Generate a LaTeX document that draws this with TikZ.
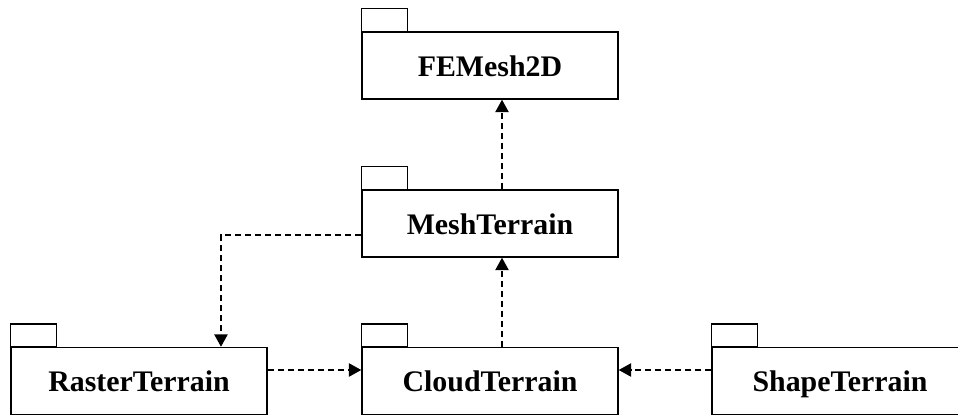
\documentclass[tikz,border=0pt]{standalone}
\usepackage{fontspec}
\setmainfont{Liberation Serif}
\usepackage{tikz}
\usetikzlibrary{arrows.meta}

\begin{document}
\begin{tikzpicture}[x=0.02cm,y=-0.02cm,line width=0.85pt]

%
% Styles
%
\tikzstyle{package} = [rectangle,draw,minimum width=5.12cm,minimum height=1.34cm,inner sep=0pt,text height=14pt,text depth=1.6pt,font=\fontsize{17}{20}\selectfont\bfseries]
\tikzstyle{depends} = [dash pattern=on 3.4pt off 2.3pt,-{Triangle[length=7pt,width=7.5pt]}]

\useasboundingbox (0,0) rectangle (958,415);
\clip (0,0) rectangle (958,415);

\node[package] (fem)    at (490, 65.5)  {FEMesh2D};
\node[package] (mesh)   at (490, 223.5) {MeshTerrain};
\node[package] (raster) at (139, 381)   {RasterTerrain};
\node[package] (cloud)  at (490, 381)   {CloudTerrain};
\node[package] (shape)  at (840, 381)   {ShapeTerrain};

% folder tabs
\foreach \p in {fem,mesh,raster,cloud,shape}
  \draw (\p.north west) rectangle ++(46,-23);

\draw[depends] ([xshift=0.24cm]mesh.north) -- ([xshift=0.24cm]fem.south);
\draw[depends] ([xshift=0.24cm]cloud.north) -- ([xshift=0.24cm]mesh.south);
\draw[depends] ([yshift=-0.23cm]mesh.west) -| ([xshift=1.64cm]raster.north);
\draw[depends] ([yshift=0.22cm]raster.east) -- ([yshift=0.22cm]cloud.west);
\draw[depends] ([yshift=0.22cm]shape.west) -- ([yshift=0.22cm]cloud.east);

\end{tikzpicture}
\end{document}
